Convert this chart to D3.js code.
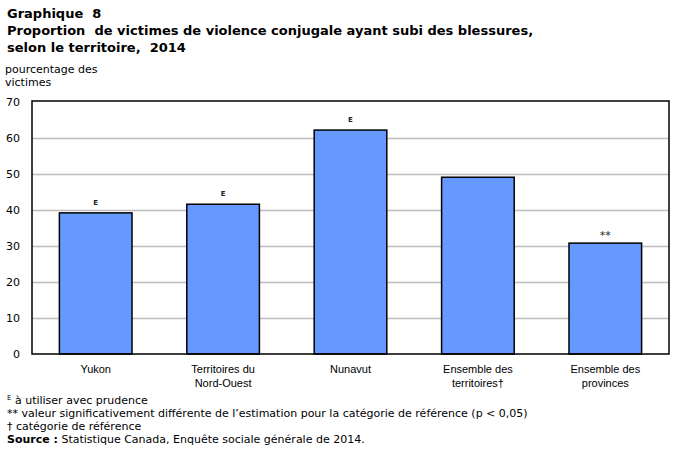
<!DOCTYPE html>
<html><head><meta charset="utf-8">
<script src="https://cdn.jsdelivr.net/npm/d3@7"></script>
<style>
body{margin:0;background:#fff;}
svg{display:block;font-family:"DejaVu Sans",Verdana,sans-serif;}
svg text{white-space:pre;}
</style></head>
<body>
<script>
const categories = [["Yukon"],["Territoires du","Nord-Ouest"],["Nunavut"],["Ensemble des","territoires†"],["Ensemble des","provinces"]];
const values = [39.2, 41.6, 62.2, 49.1, 30.8];
const flags = ["E","E","E","","**"];
const yTicks = [0,10,20,30,40,50,60,70];

const W=676,H=452;
const m={left:32,right:669,top:102,bottom:354};
const svg=d3.select("body").append("svg").attr("width",W).attr("height",H);

const x=d3.scaleBand().domain(d3.range(values.length)).range([m.left,m.right]).paddingInner(0.43).paddingOuter(0.215);
const y=d3.scaleLinear().domain([0,70]).range([m.bottom,m.top]);

// title
const title=svg.append("g").attr("font-weight","bold").attr("font-size",13).attr("fill","#000");
title.append("text").attr("x",7).attr("y",18).text("Graphique  8");
title.append("text").attr("x",7).attr("y",35).text("Proportion  de victimes de violence conjugale ayant subi des blessures,");
title.append("text").attr("x",7).attr("y",52).text("selon le territoire,  2014");

svg.append("text").attr("x",5).attr("y",73).attr("font-size",11).text("pourcentage des");
svg.append("text").attr("x",5).attr("y",86).attr("font-size",11).text("victimes");

// gridlines
svg.append("g").selectAll("line").data(yTicks.filter(d=>d>0&&d<70)).join("line")
  .attr("x1",m.left).attr("x2",m.right).attr("y1",d=>Math.round(y(d))+0.5).attr("y2",d=>Math.round(y(d))+0.5)
  .attr("stroke","#bdbdbd").attr("stroke-width",1.3);

// y axis labels
const ya=svg.append("g").call(d3.axisLeft(y).tickValues(yTicks).tickSize(0).tickPadding(8));
ya.attr("transform","translate("+m.left+",0)");
ya.select(".domain").remove();
ya.selectAll("text").attr("font-size",11).attr("fill","#000").attr("font-family","DejaVu Sans, Verdana, sans-serif").attr("dx",-4);

// bars
svg.append("g").selectAll("rect").data(values).join("rect")
  .attr("x",(d,i)=>x(i)).attr("width",x.bandwidth())
  .attr("y",d=>y(d)).attr("height",d=>y(0)-y(d))
  .attr("fill","#6699ff").attr("stroke","#000").attr("stroke-width",1.5);

// flags
svg.append("g").selectAll("text").data(flags).join("text")
  .attr("x",(d,i)=>x(i)+x.bandwidth()/2)
  .attr("y",(d,i)=>y(values[i])-(d==="**"?4:8))
  .attr("text-anchor","middle")
  .attr("font-size",d=>d==="**"?11:7).attr("font-weight",d=>d==="E"?"bold":"normal")
  .attr("fill","#222")
  .text(d=>d);

// plot frame
svg.append("rect").attr("x",m.left).attr("y",m.top-1).attr("width",m.right-m.left).attr("height",m.bottom-m.top+1)
  .attr("fill","none").attr("stroke","#000").attr("stroke-width",1.5);

// x labels
const xa=svg.append("g").attr("transform","translate(0,"+m.bottom+")").call(d3.axisBottom(x).tickSize(0).tickFormat(""));
xa.select(".domain").remove();
xa.selectAll(".tick").each(function(d){
  const t=d3.select(this).append("text").attr("fill","#000").attr("font-size",11).attr("text-anchor","middle");
  categories[d].forEach((s,k)=>t.append("tspan").attr("x",0).attr("y",19+k*14).text(s));
});

// footnotes
const fn=svg.append("g").attr("font-size",11).attr("fill","#000");
const f1=fn.append("text").attr("x",7).attr("y",404);
f1.append("tspan").attr("font-size",7).attr("dy",-4).text("E");
f1.append("tspan").attr("dy",4).text(" à utiliser avec prudence");
fn.append("text").attr("x",7).attr("y",417).text("** valeur significativement différente de l’estimation pour la catégorie de référence (p < 0,05)");
fn.append("text").attr("x",7).attr("y",430).text("† catégorie de référence");
const f4=fn.append("text").attr("x",7).attr("y",443);
f4.append("tspan").attr("font-weight","bold").text("Source :");
f4.append("tspan").text(" Statistique Canada, Enquête sociale générale de 2014.");
</script>
</body></html>
